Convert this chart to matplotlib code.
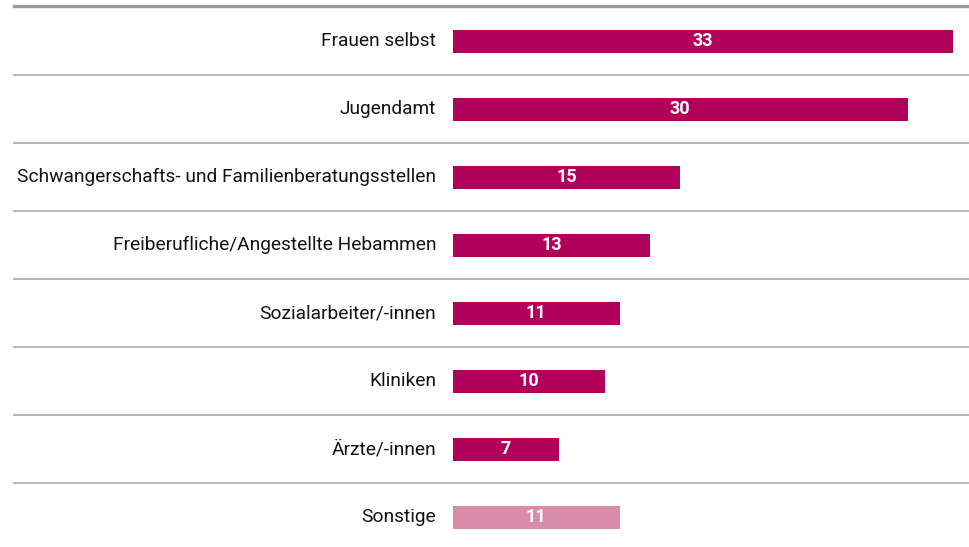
import matplotlib.pyplot as plt
import matplotlib.transforms as mtransforms
from matplotlib.lines import Line2D

categories = ["Frauen selbst", "Jugendamt", "Schwangerschafts- und Familienberatungsstellen",
              "Freiberufliche/Angestellte Hebammen", "Sozialarbeiter/-innen", "Kliniken",
              "Ärzte/-innen", "Sonstige"]
values = [33, 30, 15, 13, 11, 10, 7, 11]
colors = ["#b0005a"] * 7 + ["#d98ca8"]

W, H = 969, 547
fig = plt.figure(figsize=(W / 100, H / 100), dpi=100)

# axes: x from px 453 (value 0) to right edge, y rows 68px apart, first centre at px 41
px_per_unit = 500 / 33
ax = fig.add_axes([453 / W, 0, 1 - 453 / W, 1])
ax.set_xlim(0, (W - 453) / px_per_unit)
ax.set_ylim((H - 41) / 68, -41 / 68)
ax.axis("off")

font = dict(family=["Roboto", "DejaVu Sans"])

ax.barh(range(len(values)), values, height=23 / 68, color=colors, left=0)

for i, (cat, v) in enumerate(zip(categories, values)):
    ax.annotate(cat, (0, i), xytext=(-12, 0), textcoords="offset points",
                ha="right", va="center", fontsize=13.8, color="#141414", **font)
    ax.text(v / 2, i, str(v), ha="center", va="center", fontsize=13,
            color="white", fontweight="bold", **font)

# separators
trans = mtransforms.blended_transform_factory(fig.transFigure, ax.transData)
for i in range(len(values) - 1):
    ax.add_line(Line2D([14 / W, 1], [i + 0.5, i + 0.5], transform=trans,
                       color="#b5b5b5", lw=1.4, clip_on=False))
ax.add_line(Line2D([14 / W, 1], [-0.52, -0.52], transform=trans,
                   color="#9a9a9a", lw=2.4, clip_on=False))

fig.savefig("out.png", dpi=100)
